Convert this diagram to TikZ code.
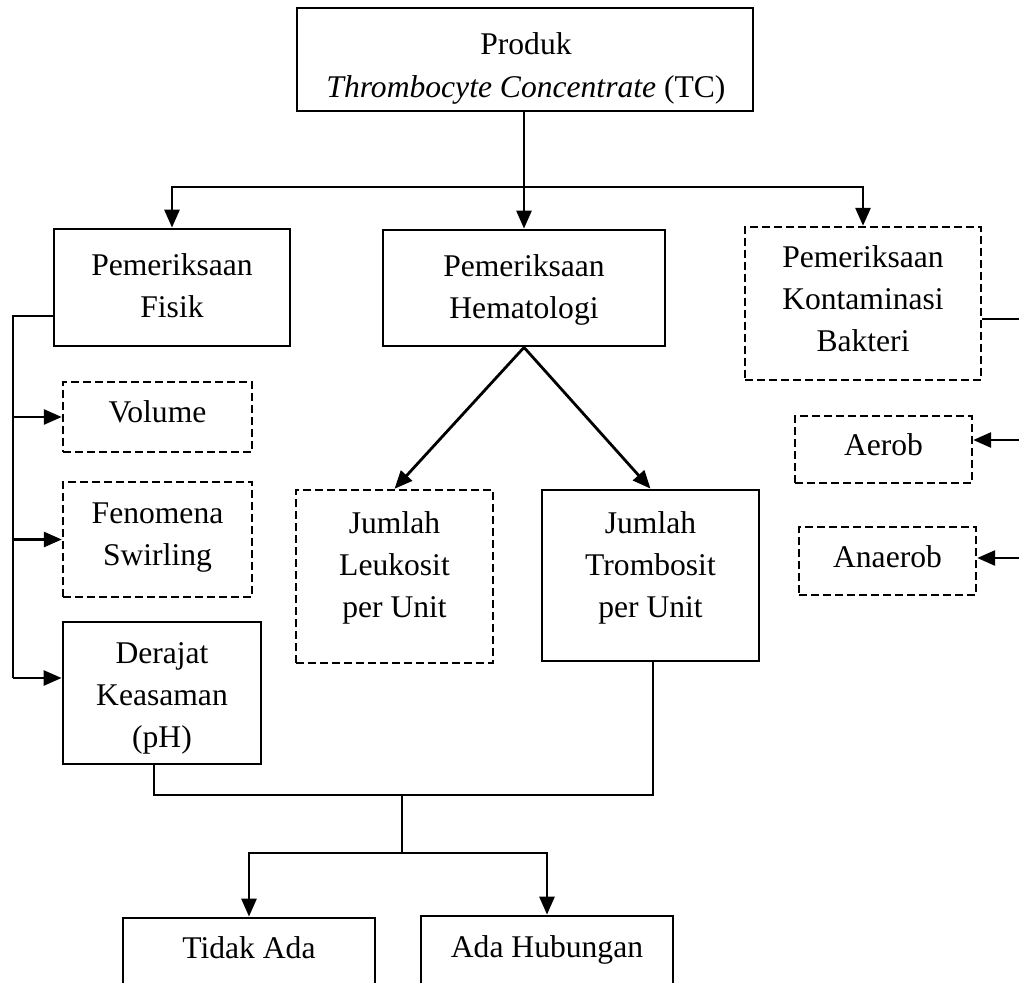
\documentclass[tikz,border=0pt]{standalone}
\usepackage{fontspec}
\setmainfont{Liberation Serif}
\usetikzlibrary{arrows.meta}
\tikzset{
  solidbox/.style={draw, line width=2.8pt, inner sep=0pt, rectangle},
  dashbox/.style={draw, line width=2.4pt, dash pattern=on 8pt off 4pt, inner sep=0pt, rectangle},
  lbl/.style={anchor=base, align=center, inner sep=0pt, font=\fontsize{31.6}{42}\selectfont},
  conn/.style={line width=2.8pt},
  arr/.style={line width=2.8pt, -{Triangle[length=18pt,width=15pt]}}
}
\begin{document}
\begin{tikzpicture}[x=1pt,y=-1pt]
\useasboundingbox (0,0) rectangle (1019,982);
% boxes
\node[solidbox, minimum width=456pt, minimum height=103pt] (top) at (525,59.5) {};
\node[solidbox, minimum width=236pt, minimum height=117pt] (fisik) at (172,287.5) {};
\node[solidbox, minimum width=282pt, minimum height=116pt] (hema) at (524,288) {};
\node[dashbox, minimum width=236pt, minimum height=153pt] (kont) at (863,303.5) {};
\node[dashbox, minimum width=189pt, minimum height=70pt] (volume) at (157.5,417) {};
\node[dashbox, minimum width=189pt, minimum height=115pt] (fenomena) at (157.5,539.5) {};
\node[solidbox, minimum width=198pt, minimum height=142pt] (derajat) at (162,693) {};
\node[dashbox, minimum width=197pt, minimum height=173pt] (leuk) at (394.5,576.5) {};
\node[solidbox, minimum width=217pt, minimum height=171pt] (tromb) at (650.5,575.5) {};
\node[dashbox, minimum width=177pt, minimum height=67pt] (aerob) at (883.5,449.5) {};
\node[dashbox, minimum width=177pt, minimum height=68pt] (anaerob) at (887.5,561) {};
\node[solidbox, minimum width=252pt, minimum height=92pt] (tidak) at (249,964) {};
\node[solidbox, minimum width=252pt, minimum height=94pt] (ada) at (547,963) {};
% texts (anchor = baseline of last line)
\node[lbl, font=\fontsize{31.6}{43}\selectfont] (topT) at (526,97) {Produk\\\textit{Thrombocyte Concentrate} (TC)};
\node[lbl] (fisikT) at (172,317) {Pemeriksaan\\Fisik};
\node[lbl] (hemaT) at (524,318) {Pemeriksaan\\Hematologi};
\node[lbl] (kontT) at (863,351) {Pemeriksaan\\Kontaminasi\\Bakteri};
\node[lbl] (volumeT) at (157.5,422) {Volume};
\node[lbl] (fenomenaT) at (157.5,565) {Fenomena\\Swirling};
\node[lbl] (derajatT) at (162,747) {Derajat\\Keasaman\\(pH)};
\node[lbl] (leukT) at (394.5,617) {Jumlah\\Leukosit\\per Unit};
\node[lbl] (trombT) at (650.5,617) {Jumlah\\Trombosit\\per Unit};
\node[lbl] (aerobT) at (883.5,455) {Aerob};
\node[lbl] (anaerobT) at (887.5,567) {Anaerob};
\node[lbl] (tidakT) at (249,958) {Tidak Ada};
\node[lbl] (adaT) at (547,957) {Ada Hubungan};
% junction coordinates
\coordinate (j1) at (524,187);
\coordinate (bus) at (13,316);
\coordinate (busend) at (13,678);
\coordinate (rb) at (1019,319);
\coordinate (ra) at (1019,440);
\coordinate (rn) at (1019,558);
\coordinate (b1) at (653,795);
\coordinate (b2) at (154,795);
\coordinate (m1) at (402,795);
\coordinate (m2) at (402,853);
% connectors
\draw[conn] (top.south -| j1) -- (j1);
\draw[arr] (j1) -- (hema.north);
\draw[arr] (j1) -| (fisik.north);
\draw[arr] (j1) -| (kont.north);
\draw[conn] (fisik.west |- bus) -- (bus) -- (busend);
\draw[arr] (bus |- volume.west) -- (volume.west);
\draw[arr] (bus |- fenomena.west) -- (fenomena.west);
\draw[arr] (busend) -- (derajat.west |- busend);
\draw[arr] (hema.south) -- (leuk.north);
\draw[arr] (hema.south) -- (tromb.north);
\draw[conn] (kont.east |- rb) -- (rb);
\draw[arr] (ra) -- (aerob.east |- ra);
\draw[arr] (rn) -- (anaerob.east |- rn);
\draw[conn] (tromb.south -| b1) -- (b1) -- (b2) -- (derajat.south -| b2);
\draw[conn] (m1) -- (m2);
\draw[arr] (m2) -| (tidak.north);
\draw[arr] (m2) -| (ada.north);
\end{tikzpicture}
\end{document}
